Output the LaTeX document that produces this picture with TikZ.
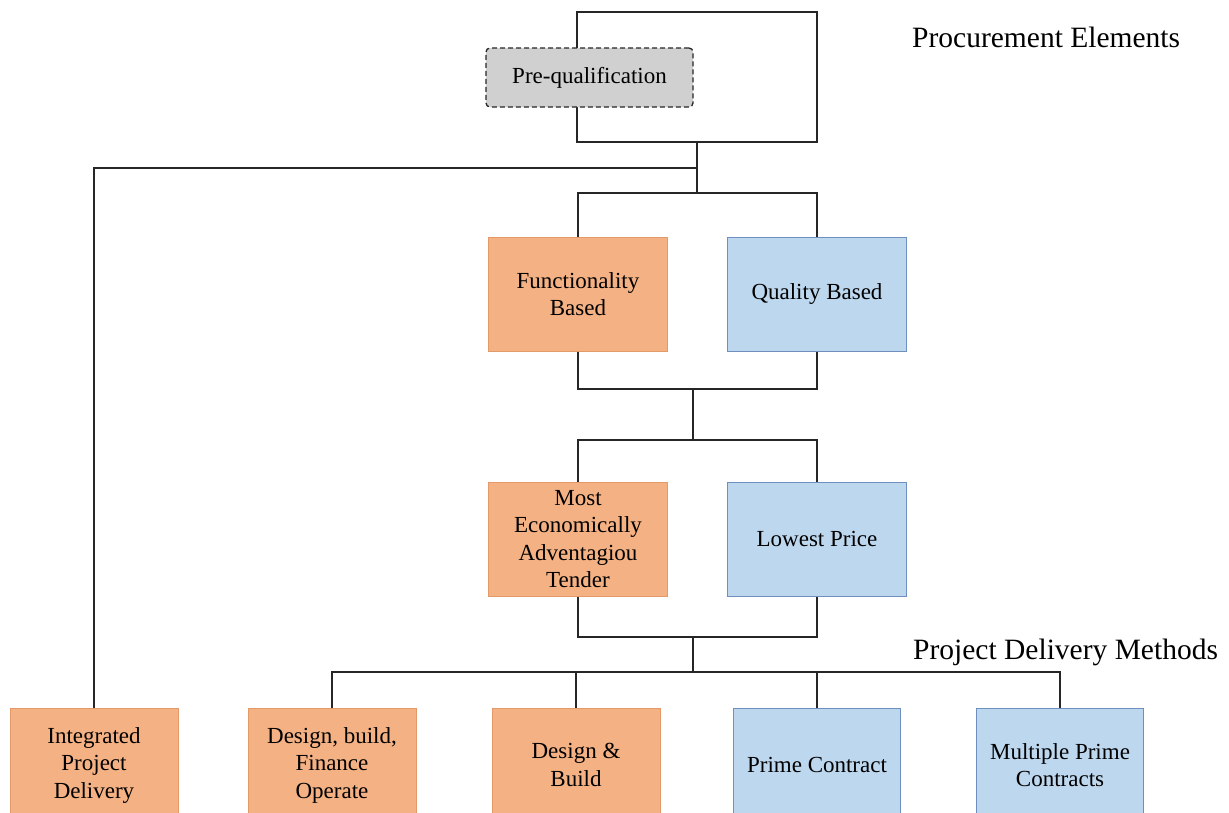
\documentclass[tikz,border=0pt]{standalone}
\usepackage{fontspec}
\setmainfont{Liberation Serif}
\definecolor{orangefill}{HTML}{F4B183}
\definecolor{orangeedge}{HTML}{E39A68}
\definecolor{bluefill}{HTML}{BDD7EE}
\definecolor{blueedge}{HTML}{6F8FBF}
\definecolor{greyfill}{HTML}{D0D0D0}
\begin{document}
\begin{tikzpicture}[x=1pt,y=-1pt,
  link/.style={draw=black!85, line width=1.5pt},
  boxtext/.style={align=center, inner sep=0pt, font=\fontsize{23}{27.5}\selectfont},
  orangebox/.style={boxtext, draw=orangeedge, fill=orangefill, line width=1pt,
    minimum height=114},
  bluebox/.style={boxtext, draw=blueedge, fill=bluefill, line width=1pt,
    minimum height=114},
  pqbox/.style={boxtext, draw=black!85, fill=greyfill, line width=1.3pt,
    dash pattern=on 5pt off 3pt, rounded corners=4pt, minimum width=207, minimum height=59},
  heading/.style={anchor=base west, inner sep=0pt, font=\fontsize{29.5}{33}\selectfont}]
\useasboundingbox (0,0) rectangle (1229,812);
\clip (0,0) rectangle (1229,812);

% procurement frame and pre-qualification
\node[draw=black!85, line width=1.5pt, minimum width=240, minimum height=130, inner sep=0pt] (pe) at (697,77) {};
\node[pqbox] (pq) at (589.5,77.5) {Pre-qualification};

% procurement elements
\node[orangebox, minimum width=179] (fb) at (578,294) {Functionality\\Based};
\node[bluebox, minimum width=179] (qb) at (817,294) {Quality Based};
\node[orangebox, minimum width=179] (meat) at (578,539) {Most\\Economically\\Adventagiou\\Tender};
\node[bluebox, minimum width=179] (lp) at (817,539) {Lowest Price};

% project delivery methods
\node[orangebox, minimum width=168] (ipd) at (94,765) {Integrated\\Project\\Delivery};
\node[orangebox, minimum width=168] (dbfo) at (332,765) {Design, build,\\Finance\\Operate};
\node[orangebox, minimum width=168] (db) at (576,765) {Design \&\\Build};
\node[bluebox, minimum width=167] (pc) at (817,765) {Prime Contract};
\node[bluebox, minimum width=167] (mpc) at (1060,765) {Multiple Prime\\Contracts};

% headings
\node[heading] (pel) at (912,47) {Procurement Elements};
\node[heading] (pdm) at (913,659) {Project Delivery Methods};

% junctions
\coordinate (j0) at (697,168);
\coordinate (j1) at (697,193);
\coordinate (j2) at (693,389);
\coordinate (j3) at (693,440);
\coordinate (j4) at (693,637);
\coordinate (j5) at (693,672);

% connectors
\draw[link] (pe.south) -- (j1);
\draw[link] (j0) -| (ipd.north);
\draw[link] (fb.north) |- (j1) -| (qb.north);
\draw[link] (fb.south) |- (j2) -| (qb.south);
\draw[link] (j2) -- (j3);
\draw[link] (meat.north) |- (j3) -| (lp.north);
\draw[link] (meat.south) |- (j4) -| (lp.south);
\draw[link] (j4) -- (j5);
\draw[link] (dbfo.north) |- (j5) -| (mpc.north);
\draw[link] (db.north) |- (j5);
\draw[link] (pc.north) |- (j5);
\end{tikzpicture}
\end{document}
